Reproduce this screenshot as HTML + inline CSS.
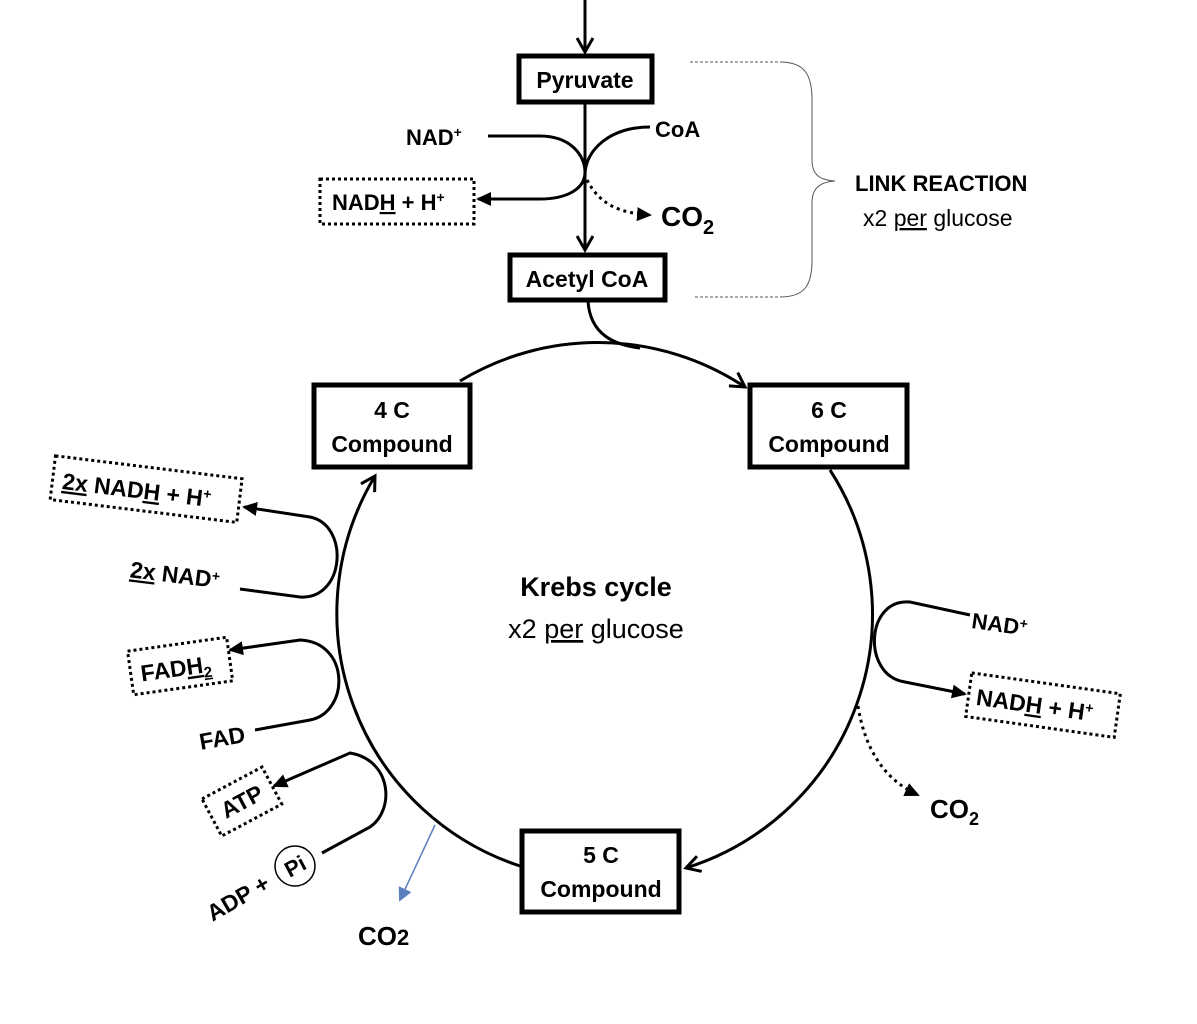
<!DOCTYPE html>
<html><head><meta charset="utf-8"><style>
html,body{margin:0;padding:0;background:#fff;}
svg{display:block;font-family:"Liberation Sans",Calibri,sans-serif;}
</style></head><body>
<svg width="1197" height="1024" viewBox="0 0 1197 1024" xmlns="http://www.w3.org/2000/svg">
<defs>
<marker id="ah" markerWidth="16" markerHeight="14" refX="13" refY="7" orient="auto" markerUnits="userSpaceOnUse"><path d="M0,0 L15,7 L0,14 z" fill="#000"/></marker>
<marker id="ao" markerWidth="18" markerHeight="18" refX="15" refY="9" orient="auto" markerUnits="userSpaceOnUse"><path d="M1,1 L15,9 L1,17" fill="none" stroke="#000" stroke-width="3"/></marker>
<marker id="ab" markerWidth="14" markerHeight="14" refX="12" refY="7" orient="auto" markerUnits="userSpaceOnUse"><path d="M0,0 L14,7 L0,14 z" fill="#5b7fbf"/></marker>
</defs>
<g fill="none" stroke="#000" stroke-width="3">
<line x1="585" y1="0" x2="585" y2="52" marker-end="url(#ao)"/>
<line x1="585" y1="102" x2="585" y2="250" marker-end="url(#ao)"/>
<path d="M488,136 L540,136 C570,136 585,155 585,172 C585,190 565,199 540,199 L478,199" marker-end="url(#ah)"/>
<path d="M650,127 C610,127 585,150 585,175"/>
<path d="M587,180 C600,205 620,213 650,215" stroke-dasharray="3,4" marker-end="url(#ah)"/>
<path d="M588,301 C590,335 615,345 640,348"/>
<path d="M460,381 A266,266 0 0 1 745,387" marker-end="url(#ao)"/>
<path d="M830,470 A266,266 0 0 1 686,868" marker-end="url(#ao)"/>
<path d="M520,866 A266,266 0 0 1 375,476" marker-end="url(#ao)"/>
<path d="M970,615 L910,602 C865,598 862,676 905,682 L965,694" marker-end="url(#ah)"/>
<path d="M858,706 C865,750 885,780 918,795" stroke-dasharray="3,4" marker-end="url(#ah)"/>
<path d="M240,589 L300,597 C345,600 350,525 310,517 L244,507" marker-end="url(#ah)"/>
<path d="M255,730 L310,720 C350,712 350,642 300,640 L230,650" marker-end="url(#ah)"/>
<path d="M322,853 L370,827 C395,810 392,760 350,753 L274,786" marker-end="url(#ah)"/>
</g>
<line x1="435" y1="825" x2="400" y2="900" stroke="#5b7fbf" stroke-width="1.5" marker-end="url(#ab)"/>
<g fill="none" stroke="#555" stroke-width="1">
<line x1="690" y1="62" x2="780" y2="62" stroke-dasharray="3,2"/>
<line x1="695" y1="297" x2="780" y2="297" stroke-dasharray="3,2"/>
<path d="M780,62 C805,62 812,75 812,100 L812,160 C812,175 820,180 835,181 C820,182 812,188 812,203 L812,260 C812,285 805,297 780,297"/>
</g>
<g fill="#fff" stroke="#000" stroke-width="5">
<rect x="519" y="56" width="133" height="46"/>
<rect x="510" y="255" width="155" height="45"/>
<rect x="314" y="385" width="156" height="82"/>
<rect x="750" y="385" width="157" height="82"/>
<rect x="522" y="831" width="157" height="81"/>
</g>
<g font-weight="bold" font-size="23" text-anchor="middle" fill="#000">
<text x="585" y="88">Pyruvate</text>
<text x="587" y="287">Acetyl CoA</text>
<text x="392" y="418">4 C</text><text x="392" y="452">Compound</text>
<text x="829" y="418">6 C</text><text x="829" y="452">Compound</text>
<text x="601" y="863">5 C</text><text x="601" y="897">Compound</text>
</g>
<g font-weight="bold" font-size="22">
<text x="406" y="145">NAD<tspan dy="-8" font-size="14">+</tspan></text>
<text x="655" y="137">CoA</text>
<text x="661" y="226" font-size="28">CO<tspan dy="8" font-size="20">2</tspan></text>
<text x="930" y="818" font-size="26">CO<tspan dy="7" font-size="18">2</tspan></text>
<text x="358" y="945" font-size="26">CO<tspan font-size="22">2</tspan></text>
<text x="855" y="191">LINK REACTION</text>
</g>
<text x="863" y="226" font-size="23">x2 <tspan text-decoration="underline">per</tspan> glucose</text>
<text x="596" y="596" font-size="27" font-weight="bold" text-anchor="middle">Krebs cycle</text>
<text x="596" y="638" font-size="27" text-anchor="middle">x2 <tspan text-decoration="underline">per</tspan> glucose</text>
<rect x="320" y="179" width="154" height="45" fill="none" stroke="#000" stroke-width="3" stroke-dasharray="3,3"/>
<text x="332" y="210" font-size="22" font-weight="bold">NAD<tspan text-decoration="underline">H</tspan> + H<tspan dy="-8" font-size="14">+</tspan></text>
<g transform="rotate(8 972 620)"><text x="972" y="628" font-size="22" font-weight="bold">NAD<tspan dy="-7" font-size="14">+</tspan></text></g>
<g transform="rotate(8 1042 705)">
<rect x="968" y="683" width="150" height="44" fill="none" stroke="#000" stroke-width="3" stroke-dasharray="3,3"/>
<text x="976" y="714" font-size="23" font-weight="bold">NAD<tspan text-decoration="underline">H</tspan> + H<tspan dy="-8" font-size="14">+</tspan></text>
</g>
<g transform="rotate(7 145 490)">
<rect x="52" y="467" width="188" height="44" fill="none" stroke="#000" stroke-width="3" stroke-dasharray="3,3"/>
<text x="62" y="499" font-size="23" font-weight="bold"><tspan text-decoration="underline">2x</tspan> NAD<tspan text-decoration="underline">H</tspan> + H<tspan dy="-8" font-size="14">+</tspan></text>
</g>
<g transform="rotate(7 185 575)"><text x="130" y="584" font-size="23" font-weight="bold"><tspan text-decoration="underline">2x</tspan> NAD<tspan dy="-7" font-size="14">+</tspan></text></g>
<g transform="rotate(-8 180 665)">
<rect x="130" y="644" width="100" height="44" fill="none" stroke="#000" stroke-width="3" stroke-dasharray="3,3"/>
<text x="140" y="676" font-size="23" font-weight="bold">FAD<tspan text-decoration="underline">H<tspan dy="5" font-size="15">2</tspan></tspan></text>
</g>
<g transform="rotate(-10 222 737)"><text x="222" y="746" font-size="23" font-weight="bold" text-anchor="middle">FAD</text></g>
<g transform="rotate(-28 241 802)">
<rect x="208" y="781" width="68" height="42" fill="none" stroke="#000" stroke-width="3" stroke-dasharray="3,3"/>
<text x="242" y="810" font-size="23" font-weight="bold" text-anchor="middle">ATP</text>
</g>
<circle cx="295" cy="866" r="20" fill="#fff" stroke="#000" stroke-width="1.5"/>
<g transform="rotate(-28 295 866)"><text x="295" y="874" font-size="22" font-weight="bold" text-anchor="middle">Pi</text></g>
<g transform="rotate(-30 238 898)"><text x="238" y="906" font-size="23" font-weight="bold" text-anchor="middle">ADP +</text></g>
</svg>
</body></html>
